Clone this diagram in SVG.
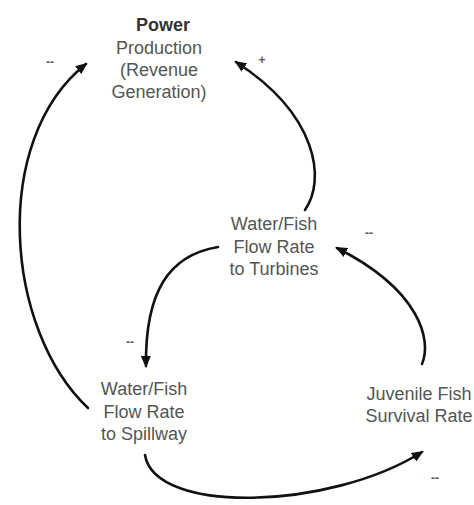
<svg xmlns="http://www.w3.org/2000/svg" width="474" height="505" viewBox="0 0 474 505">
  <style>
    .lbl { font-family: "Liberation Sans", Arial, sans-serif; font-size: 18px; fill: #555; text-anchor: middle; }
    .bold { font-weight: bold; fill: #333; }
    .sign { font-family: "Liberation Sans", Arial, sans-serif; font-size: 12px; font-weight: bold; fill: #555; text-anchor: middle; }
    .link { fill: none; stroke: #111; stroke-width: 2.6; stroke-linecap: round; }
  </style>
  <defs>
    <marker id="arrow" viewBox="0 0 12 10" refX="10" refY="5" markerWidth="12" markerHeight="10" markerUnits="userSpaceOnUse" orient="auto">
      <path d="M0,0 L12,5 L0,10 Z" fill="#111"/>
    </marker>
  </defs>
  <rect width="474" height="505" fill="#fff"/>

  <g id="power">
    <text class="lbl bold" x="163" y="31">Power</text>
    <text class="lbl" x="159" y="54">Production</text>
    <text class="lbl" x="159" y="76">(Revenue</text>
    <text class="lbl" x="159" y="98">Generation)</text>
  </g>

  <g id="turbines">
    <text class="lbl" x="274" y="230">Water/Fish</text>
    <text class="lbl" x="274" y="253">Flow Rate</text>
    <text class="lbl" x="274" y="275">to Turbines</text>
  </g>

  <g id="spillway">
    <text class="lbl" x="144" y="395">Water/Fish</text>
    <text class="lbl" x="144" y="418">Flow Rate</text>
    <text class="lbl" x="144" y="440">to Spillway</text>
  </g>

  <g id="survival">
    <text class="lbl" x="419" y="400">Juvenile Fish</text>
    <text class="lbl" x="419" y="422">Survival Rate</text>
  </g>

  <g id="connectors">
    <path class="link" d="M88,408 C5,330 -10,140 86,64" marker-end="url(#arrow)"/>
    <path class="link" d="M305,210 C326,180 318,115 236,62" marker-end="url(#arrow)"/>
    <path class="link" d="M218,247 C170,255 145,290 146,366" marker-end="url(#arrow)"/>
    <path class="link" d="M422,364 C432,340 420,290 337,248" marker-end="url(#arrow)"/>
    <path class="link" d="M145,455 C155,515 330,510 422,452" marker-end="url(#arrow)"/>
    <text class="sign" x="50" y="66">--</text>
    <text class="sign" x="262" y="64">+</text>
    <text class="sign" x="130" y="346">--</text>
    <text class="sign" x="369" y="237">--</text>
    <text class="sign" x="435" y="482">--</text>
  </g>
</svg>
